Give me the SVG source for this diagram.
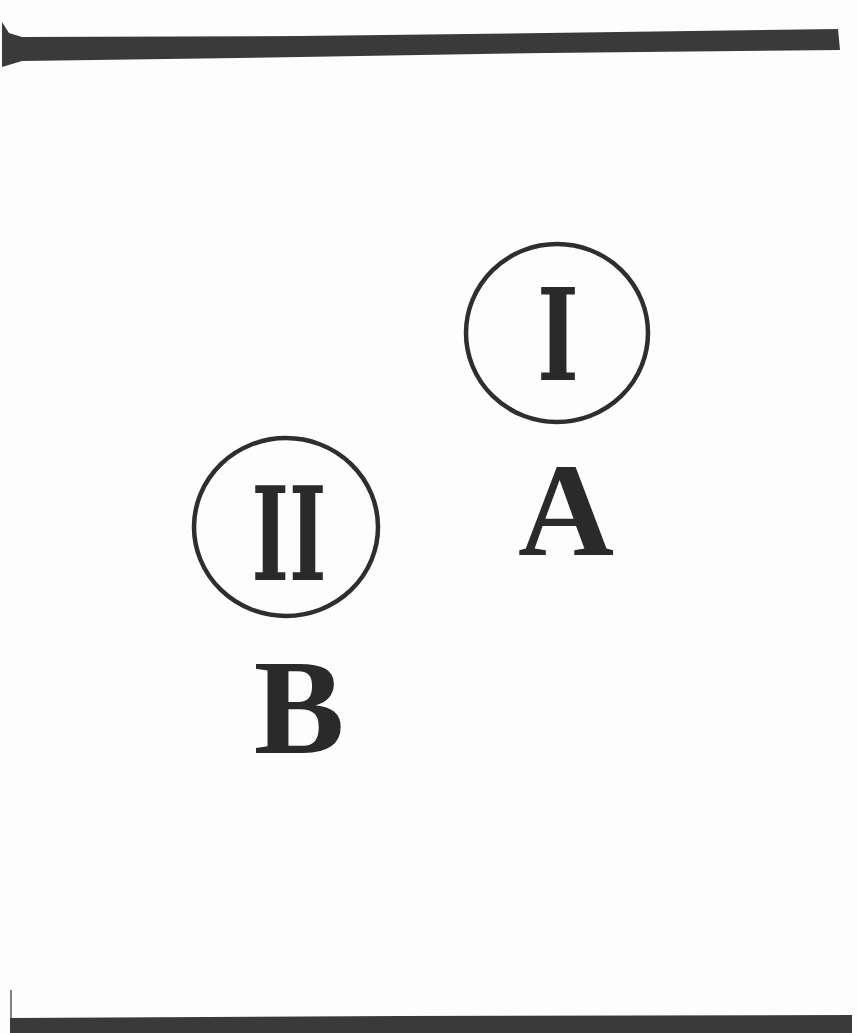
<svg xmlns="http://www.w3.org/2000/svg" width="857" height="1033" viewBox="0 0 857 1033">
<style>
.ring{fill:none;stroke:#2e2e2e;stroke-width:4.5}
.lbl{font-family:"Liberation Serif","DejaVu Serif",serif;font-weight:bold;fill:#2a2a2a;text-anchor:middle}
.num{font-family:"DejaVu Serif","Liberation Serif",serif;font-weight:bold;fill:#2a2a2a;text-anchor:middle}
.bar{fill:#3a3a3a}
</style>
<rect width="857" height="1033" fill="#fdfdfd"/>
<g id="rules">
<path class="bar" d="M2,22 L9,33 L22,37 L300,36 L546,33 L838,29 L840,50 L546,53 L300,57 L22,61 L2,67 Z"/>
<path class="bar" d="M10,1018 L400,1016 L852,1015 L852,1033 L10,1033 Z"/>
<path d="M11,990 L11,1018" stroke="#555" stroke-width="1.5"/>
</g>
<g id="nodeA">
<ellipse class="ring" cx="557" cy="333" rx="91" ry="89"/>
<text class="num" x="558" y="380" font-size="128" textLength="42" lengthAdjust="spacingAndGlyphs">I</text>
<text class="lbl" x="566" y="555" font-size="133">A</text>
</g>
<g id="nodeB">
<ellipse class="ring" cx="286" cy="527" rx="92" ry="89"/>
<text class="num" x="289" y="580" font-size="130" textLength="75" lengthAdjust="spacingAndGlyphs">II</text>
<text class="lbl" x="299" y="753" font-size="136">B</text>
</g>
</svg>
